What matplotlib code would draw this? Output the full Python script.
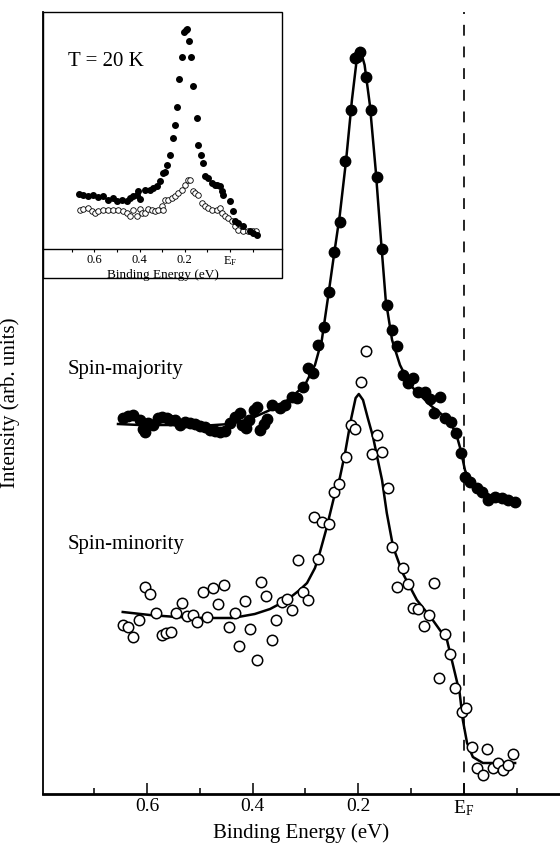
import matplotlib.pyplot as plt
from matplotlib.patches import Rectangle

plt.rcParams['font.family'] = 'serif'
plt.rcParams['font.serif'] = ['Liberation Serif', 'DejaVu Serif']
plt.rcParams['mathtext.fontset'] = 'custom'
plt.rcParams['mathtext.rm'] = 'Liberation Serif'

# main panel: spin-majority data (binding energy in eV, intensity arb. units)
maj_E = [0.646, 0.636, 0.627, 0.614, 0.608, 0.604, 0.598, 0.589, 0.580, 0.572,
         0.563, 0.557, 0.547, 0.538, 0.528, 0.519, 0.509, 0.500, 0.491, 0.481,
         0.472, 0.462, 0.453, 0.443, 0.434, 0.424, 0.420, 0.413, 0.407, 0.398,
         0.392, 0.386, 0.379, 0.373, 0.364, 0.348, 0.339, 0.326, 0.316, 0.305,
         0.295, 0.286, 0.277, 0.265, 0.256, 0.246, 0.235, 0.225, 0.214, 0.206,
         0.203, 0.197, 0.186, 0.176, 0.165, 0.155, 0.146, 0.136, 0.127, 0.116,
         0.106, 0.097, 0.087, 0.074, 0.064, 0.057, 0.045, 0.036, 0.025, 0.015,
         0.006, -0.002, -0.011, -0.025, -0.034, -0.045, -0.059, -0.072, -0.083, -0.097]
maj_I = [375, 377, 378, 373, 364, 361, 370, 368, 375, 376,
         375, 373, 373, 368, 371, 370, 369, 367, 366, 363,
         362, 361, 362, 370, 376, 380, 368, 365, 373, 383,
         386, 363, 369, 374, 388, 385, 388, 396, 395, 406,
         425, 420, 448, 466, 501, 541, 571, 632, 683, 735,
         736, 741, 716, 683, 616, 544, 488, 463, 447, 418,
         410, 415, 401, 401, 394, 380, 396, 375, 371, 360,
         340, 316, 311, 305, 301, 293, 296, 295, 293, 291]

maj_fit_E = [0.655, 0.614, 0.557, 0.500, 0.443, 0.405, 0.367, 0.330, 0.301, 0.282,
             0.269, 0.258, 0.246, 0.235, 0.223, 0.212, 0.203, 0.197, 0.188, 0.178,
             0.167, 0.157, 0.148, 0.136, 0.121, 0.102, 0.083, 0.064, 0.045, 0.027,
             0.015, 0.006, -0.002, -0.011, -0.030, -0.049, -0.068, -0.097]
maj_fit_I = [369, 368, 368, 367, 369, 374, 383, 394, 408, 428,
             453, 493, 538, 578, 633, 693, 733, 745, 728, 688,
             623, 553, 493, 453, 428, 408, 398, 388, 380, 371,
             360, 343, 323, 311, 303, 298, 295, 291]

# main panel: spin-minority data
min_E = [0.646, 0.636, 0.627, 0.616, 0.604, 0.595, 0.583, 0.572, 0.564, 0.555,
         0.545, 0.534, 0.525, 0.513, 0.506, 0.494, 0.487, 0.475, 0.466, 0.455,
         0.445, 0.434, 0.426, 0.415, 0.405, 0.392, 0.384, 0.375, 0.364, 0.356,
         0.345, 0.335, 0.326, 0.314, 0.305, 0.295, 0.284, 0.277, 0.269, 0.256,
         0.246, 0.237, 0.223, 0.214, 0.206, 0.195, 0.186, 0.174, 0.165, 0.155,
         0.144, 0.136, 0.127, 0.116, 0.106, 0.097, 0.087, 0.076, 0.066, 0.057,
         0.047, 0.036, 0.027, 0.017, 0.004, -0.004, -0.015, -0.025, -0.036, -0.044,
         -0.055, -0.064, -0.074, -0.083, -0.093]
min_I = [168, 166, 156, 173, 206, 199, 180, 158, 160, 161,
         180, 190, 177, 178, 171, 201, 176, 205, 189, 208,
         166, 180, 147, 192, 164, 133, 211, 197, 153, 173,
         191, 194, 183, 233, 201, 193, 276, 234, 271, 269,
         301, 309, 336, 368, 364, 411, 442, 339, 358, 341,
         305, 246, 206, 225, 209, 185, 184, 167, 178, 210,
         115, 159, 139, 105, 81, 85, 46, 25, 18, 44,
         25, 30, 23, 28, 39]

min_fit_E = [0.646, 0.595, 0.544, 0.491, 0.438, 0.396, 0.367, 0.335, 0.311, 0.297,
             0.282, 0.273, 0.261, 0.244, 0.235, 0.225, 0.214, 0.205, 0.199, 0.191,
             0.182, 0.172, 0.163, 0.155, 0.146, 0.134, 0.116, 0.089, 0.059, 0.032,
             0.017, 0.008, 0.002, -0.006, -0.017, -0.036, -0.068, -0.097]
min_fit_I = [181, 178, 176, 175, 175, 179, 184, 193, 203, 210,
             225, 240, 263, 300, 315, 340, 373, 395, 399, 393,
             375, 356, 333, 313, 280, 246, 220, 193, 173, 153,
             120, 100, 73, 50, 36, 30, 30, 30]

# inset (T = 20 K)
inset_maj_E = [0.667, 0.649, 0.627, 0.605, 0.583, 0.560, 0.538, 0.516, 0.501, 0.479,
               0.457, 0.442, 0.428, 0.413, 0.406, 0.398, 0.376, 0.354, 0.339, 0.324,
               0.310, 0.295, 0.288, 0.280, 0.265, 0.254, 0.243, 0.236, 0.226, 0.214,
               0.204, 0.196, 0.189, 0.180, 0.173, 0.162, 0.147, 0.140, 0.130, 0.121,
               0.111, 0.096, 0.081, 0.066, 0.059, 0.044, 0.037, 0.030, 0.000, -0.015,
               -0.022, -0.037, -0.059, -0.088, -0.103, -0.118]
inset_maj_I = [23.2, 22.6, 22.2, 22.9, 21.9, 22.2, 20.8, 21.5, 20.1, 20.8,
               20.1, 21.5, 22.2, 22.9, 24.3, 21.1, 25.0, 25.0, 25.7, 26.4,
               28.5, 32.0, 32.7, 35.5, 39.7, 46.8, 52.4, 60.1, 71.8, 81.2,
               91.7, 92.4, 92.7, 87.9, 81.2, 68.8, 55.2, 44.0, 39.7, 36.2,
               30.6, 29.9, 27.8, 27.1, 27.1, 26.4, 24.3, 22.9, 20.1, 15.9,
               11.7, 11.0, 9.6, 7.4, 6.7, 6.0]

inset_min_E = [0.664, 0.649, 0.627, 0.612, 0.597, 0.583, 0.560, 0.538, 0.516, 0.494,
               0.472, 0.457, 0.442, 0.428, 0.413, 0.398, 0.391, 0.376, 0.361, 0.347,
               0.332, 0.317, 0.302, 0.295, 0.288, 0.273, 0.258, 0.243, 0.229, 0.214,
               0.199, 0.184, 0.177, 0.165, 0.155, 0.140, 0.125, 0.111, 0.096, 0.081,
               0.059, 0.044, 0.037, 0.022, 0.007, -0.007, -0.022, -0.037, -0.059, -0.081,
               -0.103, -0.115]
inset_min_I = [16.6, 16.9, 17.3, 15.9, 15.2, 15.9, 16.6, 16.3, 16.6, 16.6,
               15.9, 15.2, 14.0, 16.3, 14.0, 16.9, 15.4, 15.2, 16.9, 16.6,
               15.9, 16.3, 18.0, 16.6, 20.8, 20.8, 21.5, 22.2, 23.6, 25.0,
               27.1, 29.2, 29.2, 24.3, 23.6, 22.9, 19.4, 18.0, 17.3, 16.6,
               16.6, 17.3, 15.2, 13.8, 13.1, 11.7, 9.6, 8.1, 7.4, 7.4,
               7.4, 7.7]

W, H = 560, 850
fig = plt.figure(figsize=(W / 100, H / 100), dpi=100)

# ---- main panel ----
ax = fig.add_axes([43 / W, (H - 794) / H, (W - 43) / W, (794 - 12) / H])
ax.set_xlim(0.797, -0.182)
ax.set_ylim(-1, 781)

ax.axvline(0.0, color='black', lw=1.2, dashes=(6.5, 6.5), zorder=1)
ax.plot(maj_fit_E, maj_fit_I, color='black', lw=1.8, zorder=2)
ax.plot(min_fit_E, min_fit_I, color='black', lw=1.8, zorder=2)
ax.plot(maj_E, maj_I, 'o', ms=7.5, color='black', zorder=3)
ax.plot(min_E, min_I, 'o', ms=7.5, mfc='white', mec='black', mew=1.1, zorder=3)

ax.spines['top'].set_visible(False)
ax.spines['right'].set_visible(False)
ax.spines['left'].set_linewidth(1.3)
ax.spines['bottom'].set_linewidth(2)

ax.set_xticks([0.6, 0.4, 0.2, 0.0])
ax.set_xticklabels(['0.6', '0.4', '0.2', r'$\mathregular{E_F}$'])
ax.set_xticks([0.7, 0.5, 0.3, 0.1, -0.1], minor=True)
ax.set_yticks([])
ax.tick_params(axis='x', which='major', direction='in', length=8, width=1.1,
               labelsize=14, pad=3)
ax.tick_params(axis='x', which='minor', direction='in', length=4, width=1.1)

ax.set_xlabel('Binding Energy (eV)', fontsize=15, labelpad=4)
ax.set_ylabel('Intensity (arb. units)', fontsize=15)
ax.yaxis.set_label_coords(-0.045, 0.5)

ax.text(0.75, 423, 'Spin-majority', fontsize=15, ha='left', va='center')
ax.text(0.75, 248, 'Spin-minority', fontsize=15, ha='left', va='center')

# ---- inset ----
axin = fig.add_axes([43 / W, (H - 249) / H, (282 - 43) / W, (249 - 12) / H])
axin.set_xlim(0.827, -0.230)
axin.set_ylim(0, 100)
axin.plot(inset_min_E, inset_min_I, 'o', ms=4, mfc='white', mec='black', mew=0.6)
axin.plot(inset_maj_E, inset_maj_I, 'o', ms=4, color='black')

for side in ['top', 'right', 'left']:
    axin.spines[side].set_visible(False)
axin.spines['bottom'].set_linewidth(1)
axin.set_yticks([])
axin.set_xticks([0.6, 0.4, 0.2, 0.0])
axin.set_xticklabels(['0.6', '0.4', '0.2', r'$\mathregular{E_F}$'])
axin.set_xticks([0.7, 0.5, 0.3, 0.1, -0.1], minor=True)
axin.tick_params(axis='x', which='both', direction='out', length=2.5, width=0.8,
                 labelsize=9, pad=1)
axin.set_xlabel('Binding Energy (eV)', fontsize=9.5, labelpad=1)
axin.text(0.105, 0.79, 'T = 20 K', fontsize=15, transform=axin.transAxes,
          ha='left', va='center')

fig.add_artist(Rectangle((43 / W, (H - 278) / H), (282 - 43) / W, (278 - 12) / H,
                         fill=False, lw=1, color='black', transform=fig.transFigure))

fig.savefig('out.png', dpi=100)
